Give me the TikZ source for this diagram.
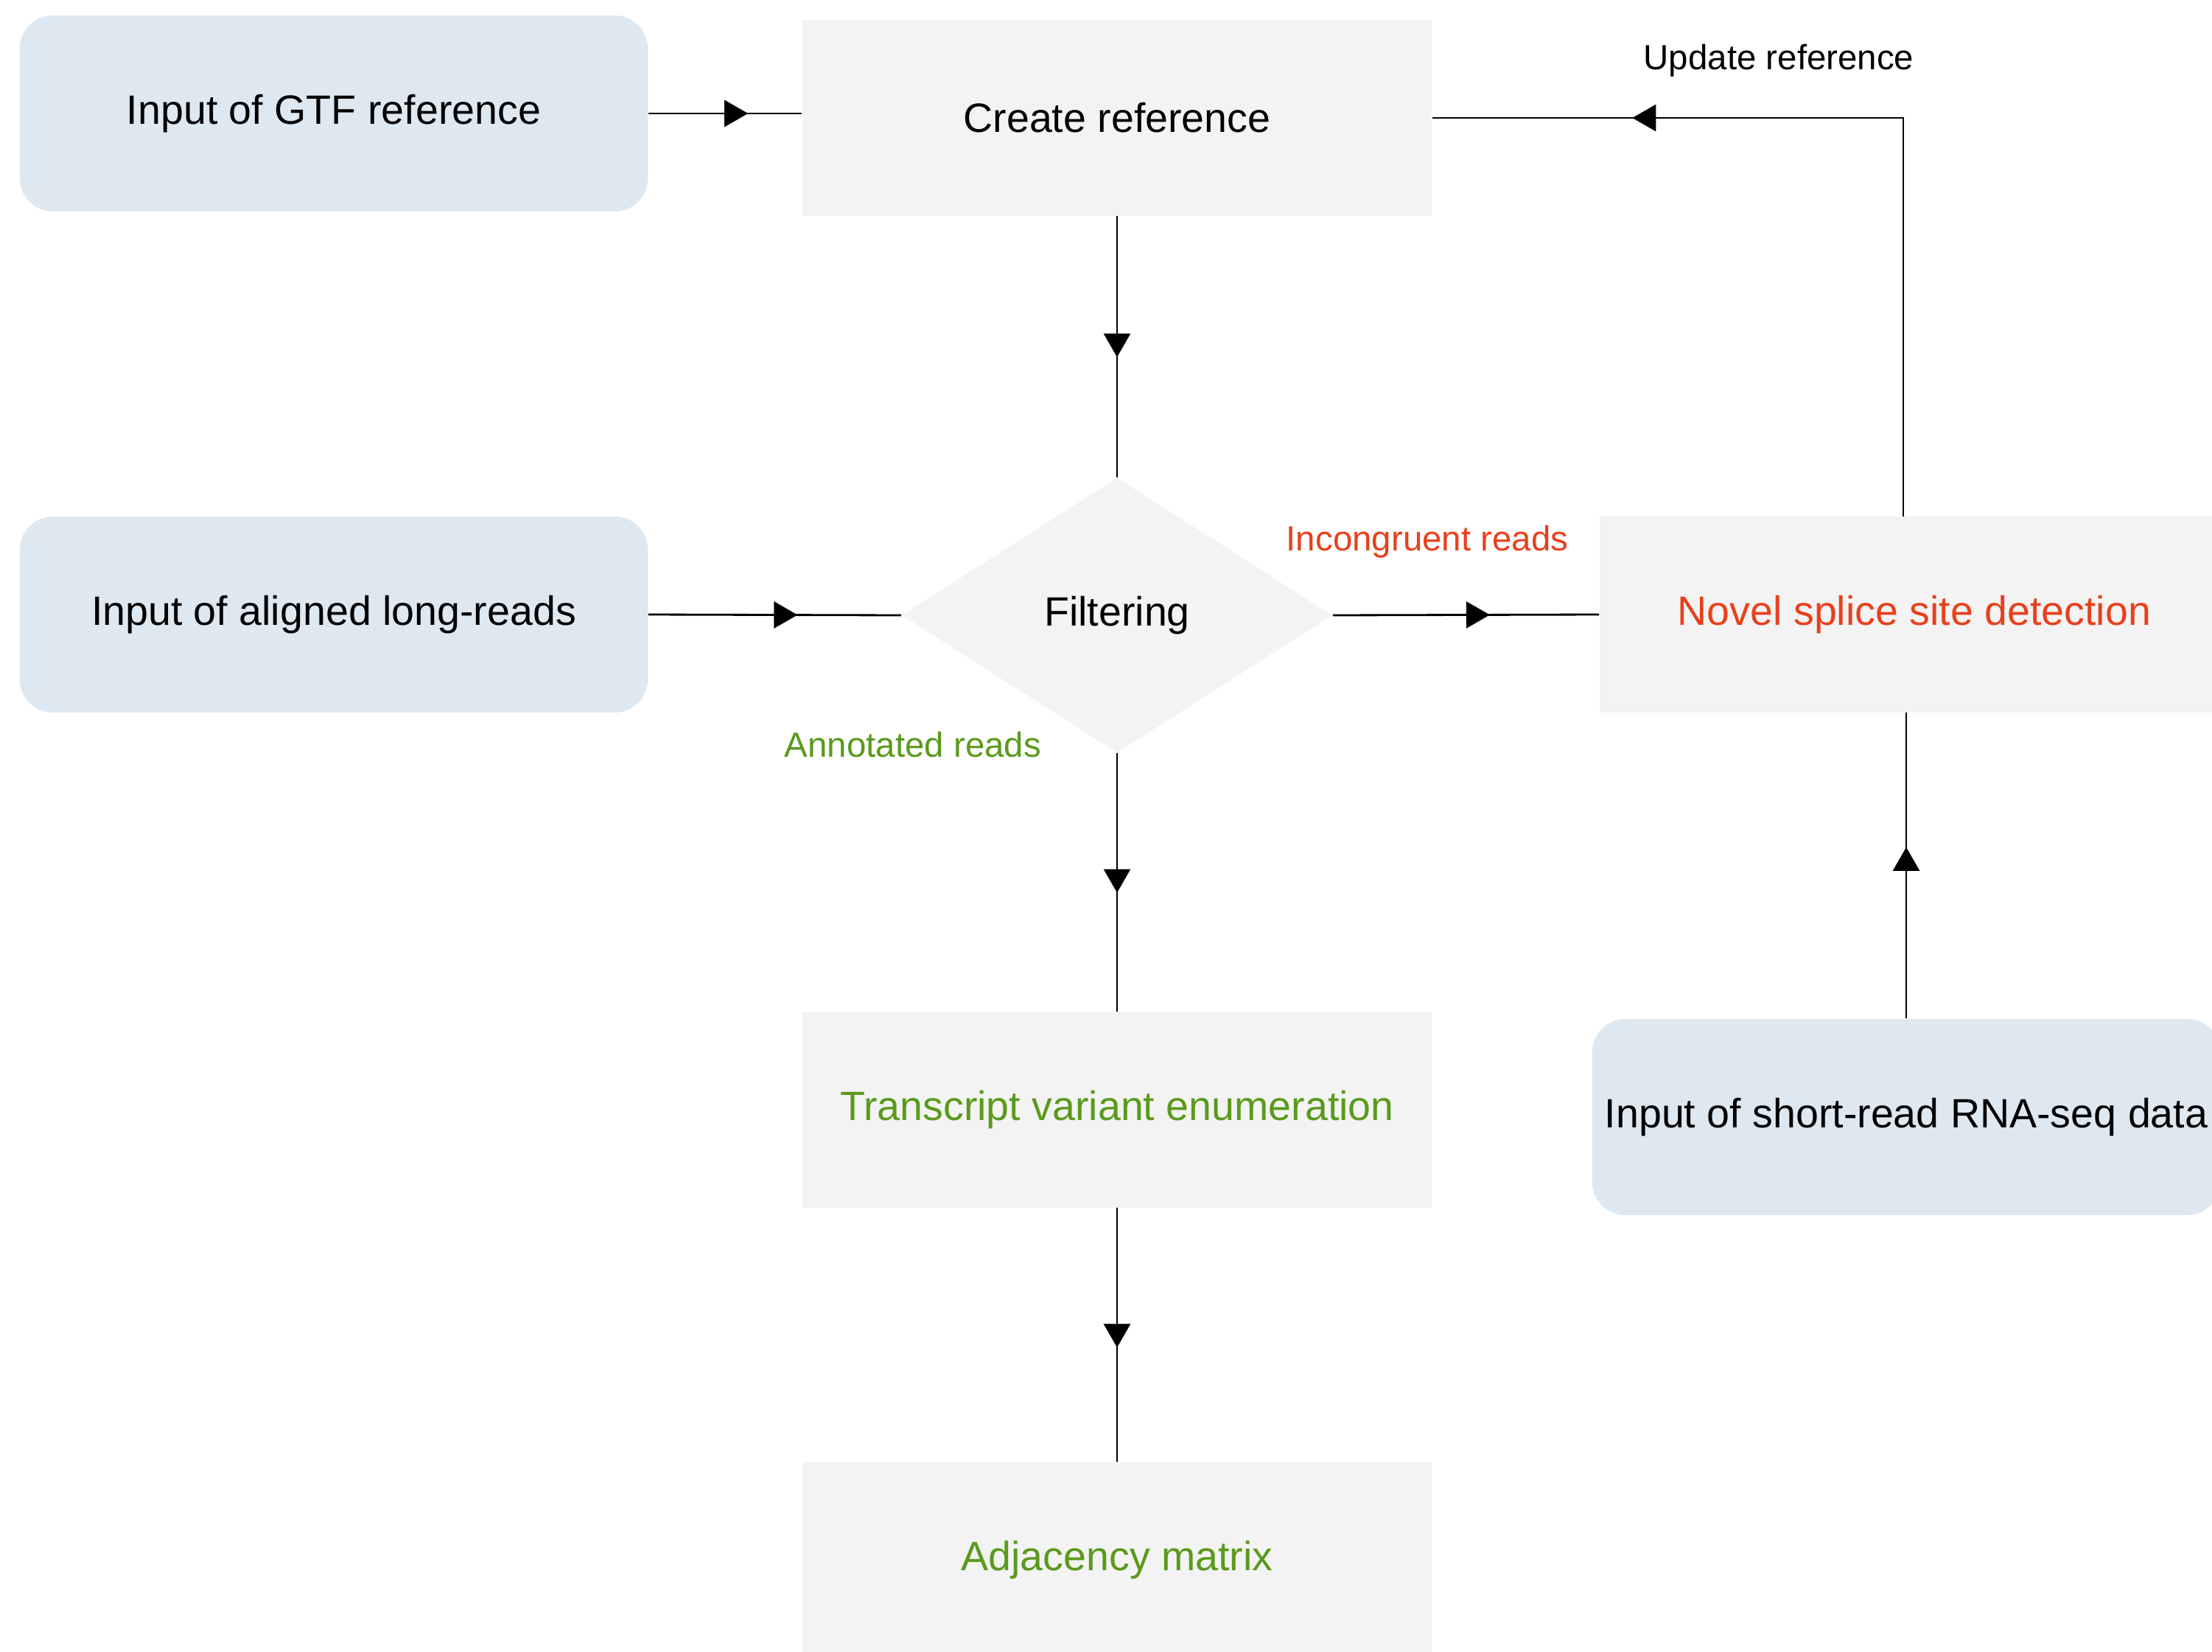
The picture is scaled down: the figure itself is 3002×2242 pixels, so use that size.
\documentclass[tikz,border=0pt]{standalone}
\usepackage{fontspec}
\setmainfont{Liberation Sans}
\usetikzlibrary{shapes.geometric,arrows.meta,decorations.markings}
\definecolor{inblue}{HTML}{DEE8F1}
\definecolor{boxgrey}{HTML}{F3F3F3}
\definecolor{novelred}{HTML}{E8401C}
\definecolor{annogreen}{HTML}{5A9A1C}

\begin{document}
\begin{tikzpicture}[x=0.01cm,y=-0.01cm,
  boxfont/.style={font=\fontsize{15.8}{19}\selectfont},
  inbox/.style={boxfont,fill=inblue,rounded corners=0.45cm,minimum width=8.52cm,minimum height=2.66cm},
  stepbox/.style={boxfont,fill=boxgrey,minimum width=8.54cm,minimum height=2.65cm},
  decbox/.style={boxfont,diamond,fill=boxgrey,inner sep=0pt,minimum width=5.84cm,minimum height=3.73cm},
  lbl/.style={font=\fontsize{13.5}{16}\selectfont},
  conn/.style={line width=0.8pt},
  midtip/.style={postaction={decorate},decoration={markings,mark=at position #1 with {\arrow{Triangle[length=0.32cm,width=0.36cm]}}}}]
\useasboundingbox (0,0) rectangle (3002,2242);
% inputs
\node[inbox] (gtf) at (453,154) {Input of GTF reference};
\node[inbox] (longreads) at (453,834) {Input of aligned long-reads};
\node[inbox] (shortreads) at (2587,1516) {Input of short-read RNA-seq data};
% steps
\node[stepbox] (create) at (1516,160) {Create reference};
\node[decbox] (filter) at (1516,835) {Filtering};
\node[stepbox,text=novelred] (novel) at (2598,834) {Novel splice site detection};
\node[stepbox,text=annogreen] (variants) at (1516,1506) {Transcript variant enumeration};
\node[stepbox,text=annogreen] (adjacency) at (1516,2117) {Adjacency matrix};
% labels
\node[lbl] (update) at (2414,82) {Update reference};
\node[lbl,text=novelred] (incong) at (1937,735) {Incongruent reads};
\node[lbl,text=annogreen] (annot) at (1239,1011) {Annotated reads};
% connectors
\draw[conn,midtip=0.65] (gtf.east) -- (gtf.east -| create.west);
\draw[conn,midtip=0.54] (create.south) -- (filter.north);
\draw[conn,midtip=0.59] (longreads.east) -- (filter.west);
\draw[conn,midtip=0.59] (filter.east) -- (novel.west);
\draw[conn,midtip=0.54] (filter.south) -- (variants.north);
\draw[conn,midtip=0.55] (variants.south) -- (adjacency.north);
\draw[conn,midtip=0.56] (shortreads.north) -- (shortreads.north |- novel.south);
\draw[conn,midtip=0.77] ([xshift=-0.15cm]novel.north) |- (create.east);
\end{tikzpicture}
\end{document}
